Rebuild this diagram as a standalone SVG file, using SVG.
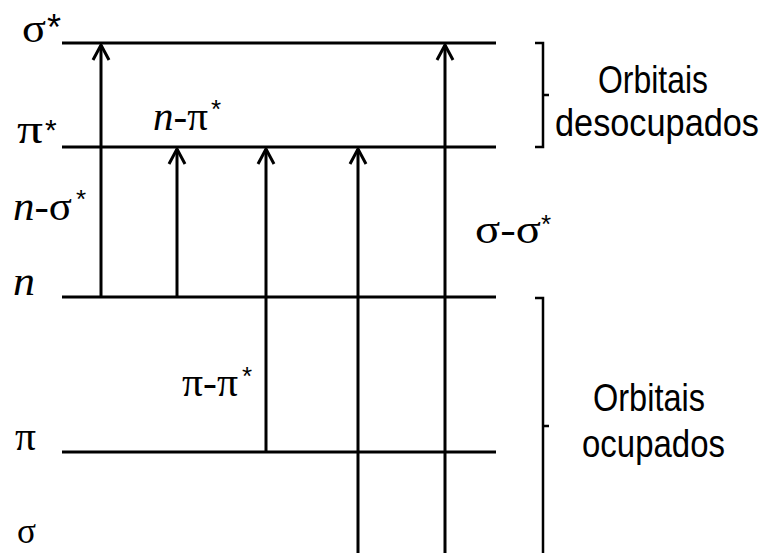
<svg xmlns="http://www.w3.org/2000/svg" width="769" height="553" viewBox="0 0 769 553">
<defs>
<style>
.lvl{stroke:#000;stroke-width:3;fill:none}
.arr{stroke:#000;stroke-width:3;fill:none;marker-end:url(#ah)}
.br{stroke:#000;stroke-width:2.5;fill:none}
.g{font-family:"Liberation Serif","DejaVu Serif",serif;font-size:40px;fill:#000}
.it{font-style:italic}
.st{font-family:"Liberation Sans",Arial,sans-serif;fill:#000}
.lab{font-family:"Liberation Sans",Arial,sans-serif;font-size:38px;fill:#000}
.lab2{font-family:"Liberation Sans",Arial,sans-serif;font-size:34px;fill:#000}
</style>
<marker id="ah" markerUnits="userSpaceOnUse" markerWidth="20" markerHeight="20" viewBox="-17 -10 20 20" refX="0" refY="0" orient="auto">
<path d="M-15,-8 L0,0 L-15,8" stroke="#000" stroke-width="3" fill="none"/>
</marker>
</defs>
<rect width="769" height="553" fill="#fff"/>
<g id="levels">
<g id="sigma-star"><line class="lvl" x1="62" y1="43" x2="496" y2="43"/><text class="g" x="22" y="42" textLength="24" lengthAdjust="spacingAndGlyphs">σ</text><text class="st" x="47" y="40" font-size="36">*</text></g>
<g id="pi-star"><line class="lvl" x1="62" y1="147" x2="496" y2="147"/><text class="g" x="17" y="143" textLength="26" lengthAdjust="spacingAndGlyphs">π</text><text class="st" x="45" y="140" font-size="30">*</text></g>
<g id="n"><line class="lvl" x1="62" y1="297" x2="496" y2="297"/><text class="g it" x="13" y="295" textLength="22" lengthAdjust="spacingAndGlyphs">n</text></g>
<g id="pi"><line class="lvl" x1="62" y1="452" x2="496" y2="452"/><text class="g" x="15" y="450" textLength="21" lengthAdjust="spacingAndGlyphs">π</text></g>
<g id="sigma"><text class="g" x="17" y="543" style="font-size:36px" textLength="19" lengthAdjust="spacingAndGlyphs">σ</text></g>
</g>
<g id="connectors">
<line class="arr" x1="101" y1="297" x2="101" y2="45"/>
<line class="arr" x1="177" y1="297" x2="177" y2="149"/>
<line class="arr" x1="266" y1="452" x2="266" y2="149"/>
<line class="arr" x1="358" y1="560" x2="358" y2="149"/>
<line class="arr" x1="445" y1="560" x2="445" y2="45"/>
</g>
<g id="transition-labels">
<g id="n-pi"><text class="g" x="153" y="130" textLength="55" lengthAdjust="spacingAndGlyphs"><tspan class="it">n</tspan>-π</text><text class="st" x="211" y="118" font-size="26">*</text></g>
<g id="n-sigma"><text class="g" x="13" y="220" textLength="59" lengthAdjust="spacingAndGlyphs"><tspan class="it">n</tspan>-σ</text><text class="st" x="76" y="208" font-size="26">*</text></g>
<g id="pi-pi"><text class="g" x="182" y="396" textLength="56" lengthAdjust="spacingAndGlyphs">π-π</text><text class="st" x="242" y="385" font-size="26">*</text></g>
<g id="sigma-sigma"><text class="g" x="475" y="243" textLength="66" lengthAdjust="spacingAndGlyphs">σ-σ</text><text class="st" x="541" y="233" font-size="26">*</text></g>
</g>
<g id="unoccupied">
<path class="br" d="M535,43 H543 V147 H535 M543,95 H549"/>
<text class="lab" x="598" y="93" textLength="110" lengthAdjust="spacingAndGlyphs">Orbitais</text>
<text class="lab2" transform="translate(555,136) scale(1,1.12)" x="0" y="0" textLength="204" lengthAdjust="spacingAndGlyphs">desocupados</text>
</g>
<g id="occupied">
<path class="br" d="M535,298 H543 V560 M543,426 H549"/>
<text class="lab" x="593" y="411" textLength="112" lengthAdjust="spacingAndGlyphs">Orbitais</text>
<text class="lab" x="582" y="457" textLength="143" lengthAdjust="spacingAndGlyphs">ocupados</text>
</g>
</svg>
